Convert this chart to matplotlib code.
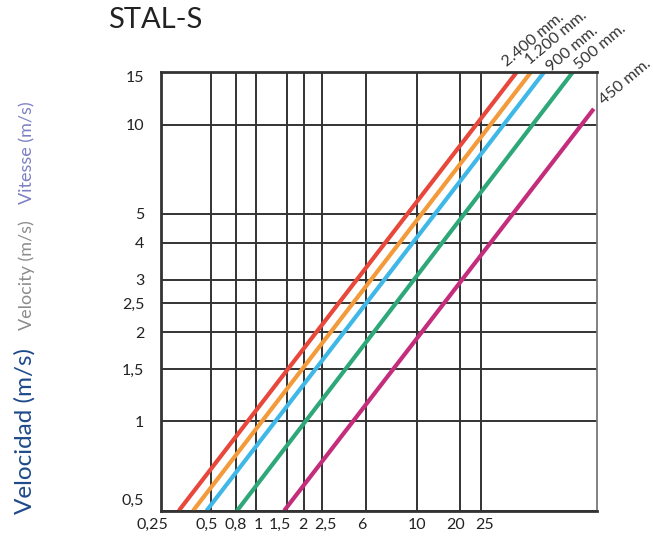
import numpy as np
import matplotlib.pyplot as plt
from matplotlib.transforms import ScaledTranslation

plt.rcParams['font.family'] = ['Lato', 'DejaVu Sans']

# flow axis (the drawing spaces these by hand, roughly log)
x_ticks = [0.25, 0.5, 0.8, 1, 1.5, 2, 2.5, 6, 10, 20, 25]
x_labels = ["0,25", "0,5", "0,8", "1", "1,5", "2", "2,5", "6", "10", "20", "25"]
x_max = 125

# velocity axis, m/s
y_ticks = [0.5, 1, 1.5, 2, 2.5, 3, 4, 5, 10, 15]
y_labels = ["0,5", "1", "1,5", "2", "2,5", "3", "4", "5", "10", "15"]

# one straight line per pipe diameter: start at 0,5 m/s, end at top
pipes = ["2.400 mm.", "1.200 mm.", "900 mm.", "500 mm.", "450 mm."]
q_start = [0.32, 0.39, 0.47, 0.81, 1.44]
q_end = [41, 50, 60, 89.5, 120]
v_end = [15, 15, 15, 15, 11.3]

colors = ["#e8473b", "#f39a3a", "#3fb8e8", "#2ea879", "#c42d7b"]
# where each tick sits along the axis width
x_pos = [0, 0.1148, 0.1721, 0.2180, 0.2899, 0.3282, 0.3688, 0.4705,
         0.5869, 0.6863, 0.7345, 1.0]
knots = np.log10(x_ticks + [x_max])

def fwd(x):
    return np.interp(np.log10(np.clip(x, 1e-9, None)), knots, x_pos)

def inv(p):
    return 10 ** np.interp(p, x_pos, knots)

W, H = 653, 544
fig = plt.figure(figsize=(W / 100, H / 100), dpi=100)
ax = fig.add_axes([161 / W, 1 - 510.7 / H, 435.7 / W, 438.4 / H])

ax.set_xscale('function', functions=(fwd, inv))
ax.set_yscale('log')
ax.set_xlim(x_ticks[0], x_max)
ax.set_ylim(y_ticks[0], y_ticks[-1])
ax.set_xticks(x_ticks)
ax.set_xticklabels(x_labels)
ax.set_yticks(y_ticks)
ax.set_yticklabels(y_labels)
ax.minorticks_off()
ax.tick_params(axis='both', length=0, labelsize=11.5, colors='#222222')
ax.tick_params(axis='x', pad=5.5)
ax.tick_params(axis='y', pad=12)

ax.set_axisbelow(True)
ax.grid(True, color='#333333', linewidth=1.4)
for side in ['left', 'top', 'bottom']:
    ax.spines[side].set_color('#333333')
    ax.spines[side].set_linewidth(2)
ax.spines['right'].set_color('#777777')
ax.spines['right'].set_linewidth(1.3)

# hand placed labels in the original
x_shift = [-9, -4, 0, 2, -7, -1.5, 3.3, -4.5, 0, -4, 3.5]
for lab, dx in zip(ax.get_xticklabels(), x_shift):
    lab.set_transform(lab.get_transform() + ScaledTranslation(dx / 100, 0, fig.dpi_scale_trans))
y_shift = [11.7, 0, 0, 0, 0, 0, 0, 0, 0, -4.4]
for lab, dy in zip(ax.get_yticklabels(), y_shift):
    lab.set_transform(lab.get_transform() + ScaledTranslation(0, dy / 100, fig.dpi_scale_trans))

label_off = [(-10, 5.6), (-1, 7.3), (7.4, 0.6), (6, 2.5), (10, 4)]
for name, q0, q1, v1, c, off in zip(pipes, q_start, q_end, v_end, colors, label_off):
    ax.plot([q0, q1], [y_ticks[0], v1], color=c, linewidth=3, solid_capstyle='butt')
    ax.annotate(name, xy=(q1, v1), xytext=(off[0] * 0.72, off[1] * 0.72),
                textcoords='offset points', rotation=40, rotation_mode='anchor',
                ha='left', va='baseline', fontsize=11.5, color='#333333',
                annotation_clip=False)

fig.text(108 / W, 1 - 28.3 / H, "STAL-S", fontsize=21, color='#222222',
         ha='left', va='baseline')

fig.text(32 / W, 1 - 431 / H, "Velocidad (m/s)", rotation=90, rotation_mode='anchor',
         ha='center', va='baseline', fontsize=17.5, color='#1f4a8a')
fig.text(32 / W, 1 - 275 / H, "Velocity (m/s)", rotation=90, rotation_mode='anchor',
         ha='center', va='baseline', fontsize=13, color='#8c8c8c')
fig.text(32 / W, 1 - 153 / H, "Vitesse (m/s)", rotation=90, rotation_mode='anchor',
         ha='center', va='baseline', fontsize=13, color='#7c80c4')

fig.savefig('out.png', dpi=100)
